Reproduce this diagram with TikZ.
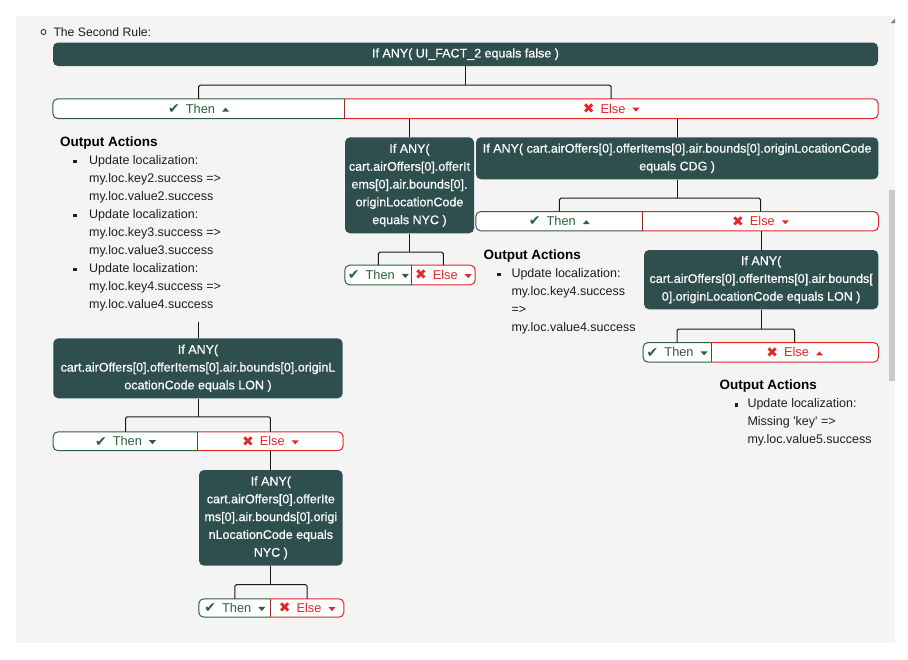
\documentclass[tikz,border=0pt]{standalone}
\usepackage{fontspec}
\setmainfont{Liberation Sans}
\newfontfamily\symf{DejaVu Sans}
\newfontfamily\boxf{Liberation Sans}[FakeBold=0.6]
\definecolor{boxc}{RGB}{47,79,79}
\definecolor{thenc}{RGB}{45,96,62}
\definecolor{elsec}{RGB}{224,40,40}
\definecolor{divc}{RGB}{150,45,35}
\definecolor{panel}{RGB}{244,244,244}
\definecolor{txt}{RGB}{30,30,30}
\definecolor{linec}{RGB}{25,25,25}
\definecolor{scroll}{RGB}{200,200,200}
\pgfdeclarelayer{back}\pgfdeclarelayer{mid}\pgfsetlayers{back,mid,main}
\newcommand\caretup[1]{\tikz[baseline=0pt]\fill[#1] (0pt,1.5pt) -- (7pt,1.5pt) -- (3.5pt,5.5pt) -- cycle;}
\newcommand\caretdn[1]{\tikz[baseline=0pt]\fill[#1] (0pt,5.5pt) -- (7pt,5.5pt) -- (3.5pt,1.5pt) -- cycle;}
\newcommand\thenlab[1]{\raisebox{-0.3pt}{\symf\fontsize{14}{14}\selectfont ✔}\hspace{6pt}Then\hspace{7pt}#1}
\newcommand\elselab[1]{\raisebox{-0.3pt}{\symf\fontsize{14}{14}\selectfont ✖}\hspace{6pt}Else\hspace{7pt}#1}
\newcommand\barframe[2]{%
\begin{pgfonlayer}{mid}
\filldraw[fill=white, draw=thenc, line width=1pt, rounded corners=5pt] (#1.north east) -- (#1.north west) -- (#1.south west) -- (#1.south east);
\filldraw[fill=white, draw=elsec, line width=1pt, rounded corners=5pt] (#2.north west) -- (#2.north east) -- (#2.south east) -- (#2.south west);
\draw[divc, line width=1pt] (#1.north east) -- (#1.south east);
\end{pgfonlayer}}
\tikzset{
  cond/.style={fill=boxc, rounded corners=5pt, text=white, font=\boxf\fontsize{12.5}{17.8}\selectfont, align=center, inner sep=0pt},
  thenn/.style={inner sep=0pt, text=thenc, font=\fontsize{12.8}{15}\selectfont},
  elsen/.style={inner sep=0pt, text=elsec, font=\fontsize{12.8}{15}\selectfont},
  conn/.style={draw=linec, line width=1pt, rounded corners=1.5pt},
  body/.style={font=\fontsize{12.5}{18}\selectfont, text=txt, inner sep=0pt, anchor=base west},
  head/.style={font=\bfseries\fontsize{13.5}{18}\selectfont, text=black, inner sep=0pt, anchor=base west},
  sq/.style={fill=txt, minimum size=3.6pt, inner sep=0pt},
}
\begin{document}
\begin{tikzpicture}[x=1pt,y=-1pt]
\useasboundingbox (0,0) rectangle (908,659);
\begin{pgfonlayer}{back}
\fill[white] (0,0) rectangle (908,659);
\fill[panel] (16,16) rectangle (895,643);
\fill[scroll] (889,190) rectangle (895,381);
\fill[gray] (890.5,23) -- (895,23) -- (895,18.5) -- cycle;
\end{pgfonlayer}

% heading line
\node[draw=txt, circle, line width=0.8pt, minimum size=5pt, inner sep=0pt] (hb) at (43.5,32) {};
\node[body, font=\fontsize{12.2}{18}\selectfont] (rule) at (53.3,36) {The Second Rule:};

% top condition
\node[cond, minimum width=825pt, minimum height=23.5pt] (title) at (465.5,54.25) {If ANY( UI\_FACT\_2 equals false )};
\node[thenn, minimum width=291.3pt, minimum height=19.3pt] (t1) at (198.65,108.65) {\thenlab{\caretup{thenc}}};
\node[elsen, minimum width=533.7pt, minimum height=19.3pt] (e1) at (611.15,108.65) {\elselab{\caretdn{elsec}}};
\barframe{t1}{e1}
\draw[conn] (title.south) -- ++(0,19) coordinate (j1);
\draw[conn] (j1) -| (t1.north);
\draw[conn] (j1) -| (e1.north);

% Then branch output actions
\node[head] (oa1) at (60,146) {Output Actions};
\foreach \t [count=\i from 0] in {Update localization:,my.loc.key2.success =>,my.loc.value2.success,Update localization:,my.loc.key3.success =>,my.loc.value3.success,Update localization:,my.loc.key4.success =>,my.loc.value4.success}
  \node[body] (la\i) at (89,164+18*\i) {\t};
\foreach \i in {0,1,2}
  \node[sq] (ba\i) at (75,161.5+54*\i) {};

% LON condition (left)
\coordinate (s1) at (198,321.5);
\node[cond, minimum width=289.4pt, minimum height=60pt] (lon1) at (198,368.3) {If ANY(\\cart.airOffers[0].offerItems[0].air.bounds[0].originL\\ocationCode equals LON )};
\draw[conn] (s1) -- (lon1.north);
\node[thenn, minimum width=144.4pt, minimum height=18.5pt] (t5) at (125.5,441.25) {\thenlab{\caretdn{thenc}}};
\node[elsen, minimum width=145.3pt, minimum height=18.5pt] (e5) at (270.35,441.25) {\elselab{\caretdn{elsec}}};
\barframe{t5}{e5}
\draw[conn] (lon1.south) -- ++(0,18.3) coordinate (j5);
\draw[conn] (j5) -| (t5.north);
\draw[conn] (j5) -| (e5.north);

% NYC condition (bottom)
\node[cond, minimum width=143.7pt, minimum height=95.7pt] (nyc2) at (270.85,517.85) {If ANY(\\cart.airOffers[0].offerIte\\ms[0].air.bounds[0].origi\\nLocationCode equals\\NYC )};
\draw[conn] (nyc2.north |- e5.south) -- (nyc2.north);
\node[thenn, minimum width=71.7pt, minimum height=18pt] (t6) at (234.85,608) {\thenlab{\caretdn{thenc}}};
\node[elsen, minimum width=73pt, minimum height=18pt] (e6) at (307.2,608) {\elselab{\caretdn{elsec}}};
\barframe{t6}{e6}
\draw[conn] (nyc2.south) -- ++(0,18.8) coordinate (j6);
\draw[conn] (j6) -| (t6.north);
\draw[conn] (j6) -| (e6.north);

% NYC condition (upper middle)
\node[cond, minimum width=129pt, minimum height=96pt] (nyc1) at (409.5,185.3) {If ANY(\\cart.airOffers[0].offerIt\\ems[0].air.bounds[0].\\originLocationCode\\equals NYC )};
\draw[conn] (nyc1.north |- e1.south) -- (nyc1.north);
\node[thenn, minimum width=66.7pt, minimum height=19.3pt] (t2) at (378.35,275) {\thenlab{\caretdn{thenc}}};
\node[elsen, minimum width=63.3pt, minimum height=19.3pt] (e2) at (443.35,275) {\elselab{\caretdn{elsec}}};
\barframe{t2}{e2}
\draw[conn] (nyc1.south) -- ++(0,18.7) coordinate (j2);
\draw[conn] (j2) -| (t2.north);
\draw[conn] (j2) -| (e2.north);

% CDG condition
\node[cond, minimum width=402.3pt, minimum height=42pt] (cdg) at (677.15,158.3) {If ANY( cart.airOffers[0].offerItems[0].air.bounds[0].originLocationCode\\equals CDG )};
\draw[conn] (cdg.north |- e1.south) -- (cdg.north);
\node[thenn, minimum width=166.7pt, minimum height=19pt] (t3) at (559.35,221.2) {\thenlab{\caretup{thenc}}};
\node[elsen, minimum width=235.6pt, minimum height=19pt] (e3) at (760.5,221.2) {\elselab{\caretdn{elsec}}};
\barframe{t3}{e3}
\draw[conn] (cdg.south) -- ++(0,18.7) coordinate (j3);
\draw[conn] (j3) -| (t3.north);
\draw[conn] (j3) -| (e3.north);

\node[head] (oa2) at (483.3,259) {Output Actions};
\foreach \t [count=\i from 0] in {Update localization:,my.loc.key4.success,=>,my.loc.value4.success}
  \node[body] (lb\i) at (511.3,277+18*\i) {\t};
\node[sq] (bb0) at (498.7,274.5) {};

% LON condition (right)
\node[cond, minimum width=234.3pt, minimum height=59.3pt] (lon2) at (761.15,279.65) {If ANY(\\cart.airOffers[0].offerItems[0].air.bounds[\\0].originLocationCode equals LON )};
\draw[conn] (lon2.north |- e3.south) -- (lon2.north);
\node[thenn, minimum width=67.7pt, minimum height=19.3pt] (t4) at (677.15,352.35) {\thenlab{\caretdn{thenc}}};
\node[elsen, minimum width=167.3pt, minimum height=19.3pt] (e4) at (794.65,352.35) {\elselab{\caretup{elsec}}};
\barframe{t4}{e4}
\draw[conn] (lon2.south) -- ++(0,19.5) coordinate (j4);
\draw[conn] (j4) -| (t4.north);
\draw[conn] (j4) -| (e4.north);

\node[head] (oa3) at (719.3,389) {Output Actions};
\foreach \t [count=\i from 0] in {Update localization:,Missing \textquotesingle key\textquotesingle\ =>,my.loc.value5.success}
  \node[body] (lc\i) at (747.3,407.5+18*\i) {\t};
\node[sq] (bc0) at (736.5,405) {};
\end{tikzpicture}
\end{document}
